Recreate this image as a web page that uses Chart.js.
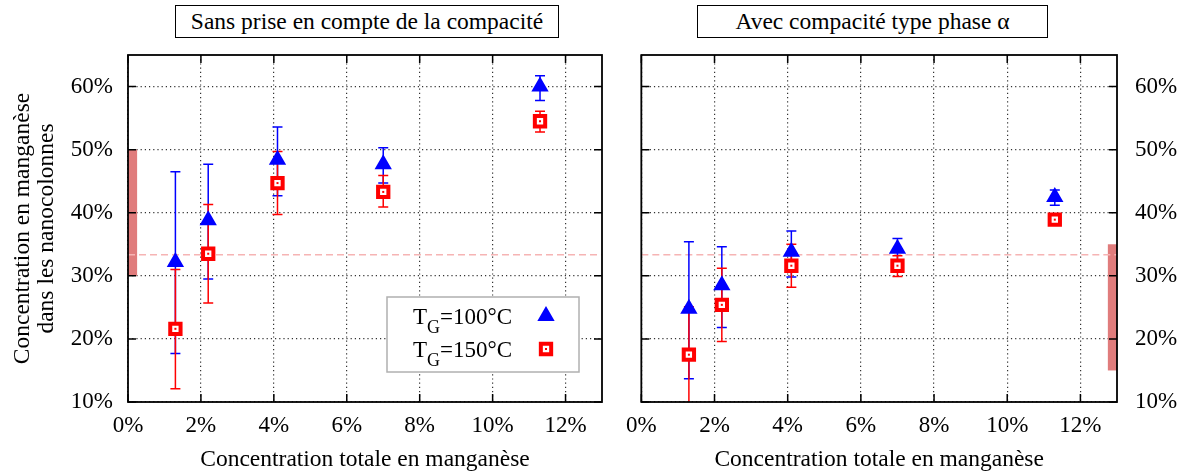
<!DOCTYPE html>
<html>
<head>
<meta charset="utf-8">
<script src="https://cdn.jsdelivr.net/npm/chart.js@4.4.1/dist/chart.umd.min.js"></script>
<style>
  body { margin: 0; background: #fff; width: 1186px; height: 476px; position: relative; overflow: hidden; font-family: "Liberation Serif", "Times New Roman", serif; }
  #c1 { position: absolute; left: 0; top: 0; }
  #c2 { position: absolute; left: 616px; top: 0; }
  .ttl { position: absolute; top: 5px; height: 31px; border: 1.5px solid #000; font-family: "Liberation Serif", "Times New Roman", serif; font-size: 23.5px; line-height: 31px; text-align: center; z-index: 2; background: #fff; }
</style>
</head>
<body>
<div class="ttl" style="left:175px;width:382px">Sans prise en compte de la compacité</div>
<div class="ttl" style="left:697px;width:349px">Avec compacité type phase α</div>
<canvas id="c1" width="616" height="476"></canvas>
<canvas id="c2" width="570" height="476"></canvas>
<script>
// Mn total concentration (%)
const mnTotal = [1.3, 2.2, 4.1, 7.0, 11.3];

// Left panel: sans prise en compte de la compacité
const sansT100 = [32.2, 38.8, 48.4, 47.7, 60.0];
const sansT100Low = [17.7, 29.5, 42.7, 44.7, 57.8];
const sansT100High = [46.5, 47.7, 53.6, 50.3, 61.7];
const sansT150 = [21.6, 33.5, 44.7, 43.3, 54.5];
const sansT150Low = [12.1, 25.7, 39.7, 40.9, 52.8];
const sansT150High = [31.0, 41.3, 49.7, 45.9, 56.1];

// Right panel: avec compacité type phase alpha
const avecT100 = [24.8, 28.5, 33.8, 34.3, 42.5];
const avecT100Low = [13.7, 21.8, 29.8, 32.3, 41.2];
const avecT100High = [35.4, 34.6, 37.1, 35.9, 43.6];
const avecT150 = [17.5, 25.4, 31.6, 31.6, 38.9];
const avecT150Low = [9.0, 19.6, 28.2, 29.9, 38.5];
const avecT150High = [25.1, 31.2, 35.0, 33.2, 39.3];

const xTicks = [0, 2, 4, 6, 8, 10, 12];
const yTicks = [10, 20, 30, 40, 50, 60];
const refLevel = 100 / 3;
const sansBandX = [0, 0.25], sansBandY = [30, 50];
const avecBandX = [12.75, 13], avecBandY = [15, 35];
const legendLabels = ['100°C', '150°C'];

const FONT = '"Liberation Serif", "Times New Roman", serif';
const BLUE = '#0000ff', RED = '#ff0000';

function points(vals, lo, hi) {
    return mnTotal.map((m, i) => ({ x: m, y: vals[i], lo: lo[i], hi: hi[i] }));
}

const decor = {
    id: 'decor',
    beforeDraw(chart) {
        const ctx = chart.ctx;
        ctx.save();
        ctx.fillStyle = '#fff';
        ctx.fillRect(0, 0, chart.width, chart.height);
        ctx.restore();
    },
    beforeDatasetsDraw(chart, args, opts) {
        const { ctx, chartArea: a, scales: { x, y } } = chart;
        ctx.save();
        ctx.beginPath();
        ctx.rect(a.left, a.top, a.width, a.height);
        ctx.clip();
        // shaded band
        const x0 = x.getPixelForValue(opts.bandX[0]), x1 = x.getPixelForValue(opts.bandX[1]);
        const y0 = y.getPixelForValue(opts.bandY[1]), y1 = y.getPixelForValue(opts.bandY[0]);
        ctx.fillStyle = '#e07c7c';
        ctx.fillRect(x0, y0, x1 - x0, y1 - y0);
        // dashed reference line
        const yr = y.getPixelForValue(refLevel);
        ctx.strokeStyle = '#f6b4b4';
        ctx.lineWidth = 1.5;
        ctx.setLineDash([7, 4]);
        ctx.beginPath();
        ctx.moveTo(a.left, yr);
        ctx.lineTo(a.right, yr);
        ctx.stroke();
        ctx.setLineDash([]);
        // error bars
        chart.data.datasets.forEach(ds => {
            ctx.strokeStyle = ds.borderColor;
            ctx.lineWidth = 1.5;
            ds.data.forEach(p => {
                const px = x.getPixelForValue(p.x);
                const lo = y.getPixelForValue(p.lo), hi = y.getPixelForValue(p.hi);
                ctx.beginPath();
                ctx.moveTo(px, lo); ctx.lineTo(px, hi);
                ctx.moveTo(px - 5, lo); ctx.lineTo(px + 5, lo);
                ctx.moveTo(px - 5, hi); ctx.lineTo(px + 5, hi);
                ctx.stroke();
            });
        });
        ctx.restore();
    },
    afterDatasetsDraw(chart, args, opts) {
        const { ctx, chartArea: a, scales: { x, y } } = chart;
        ctx.save();
        // centre dots of the square markers
        const red = chart.data.datasets[1];
        ctx.fillStyle = RED;
        red.data.forEach(p => {
            ctx.fillRect(x.getPixelForValue(p.x) - 1, y.getPixelForValue(p.y) - 1, 2, 2);
        });
        // frame
        ctx.strokeStyle = '#000';
        ctx.lineWidth = 1.8;
        ctx.strokeRect(a.left, a.top, a.width, a.height);
        // inward tick marks on all sides
        ctx.lineWidth = 1.5;
        ctx.beginPath();
        xTicks.forEach(v => {
            const px = x.getPixelForValue(v);
            ctx.moveTo(px, a.bottom); ctx.lineTo(px, a.bottom - 8);
            ctx.moveTo(px, a.top); ctx.lineTo(px, a.top + 8);
        });
        yTicks.forEach(v => {
            const py = y.getPixelForValue(v);
            ctx.moveTo(a.left, py); ctx.lineTo(a.left + 8, py);
            ctx.moveTo(a.right, py); ctx.lineTo(a.right - 8, py);
        });
        ctx.stroke();
        // legend box
        if (opts.legend) {
            const bx = a.right - 215, by = a.bottom - 105, bw = 192, bh = 75;
            ctx.fillStyle = '#fff';
            ctx.fillRect(bx, by, bw, bh);
            ctx.strokeStyle = '#b0b0b0';
            ctx.lineWidth = 1.5;
            ctx.strokeRect(bx, by, bw, bh);
            const endX = a.right - 90;
            const rows = [a.bottom - 78, a.bottom - 45];
            chart.data.datasets.forEach((ds, i) => {
                const base = rows[i];
                const rest = '=' + legendLabels[i];
                ctx.fillStyle = '#000';
                ctx.textBaseline = 'alphabetic';
                ctx.font = '23px ' + FONT;
                const wT = ctx.measureText('T').width, wR = ctx.measureText(rest).width;
                ctx.font = '18px ' + FONT;
                const wG = ctx.measureText('G').width;
                let tx = endX - wT - wG - wR;
                ctx.font = '23px ' + FONT;
                ctx.fillText('T', tx, base);
                ctx.font = '18px ' + FONT;
                ctx.fillText('G', tx + wT, base + 9);
                ctx.font = '23px ' + FONT;
                ctx.fillText(rest, tx + wT + wG, base);
                ctx.fillStyle = ds.backgroundColor;
                ctx.strokeStyle = ds.borderColor;
                ctx.lineWidth = ds.borderWidth;
                Chart.helpers.drawPoint(ctx, { pointStyle: ds.pointStyle, radius: ds.pointRadius, borderWidth: ds.borderWidth, rotation: 0 }, a.right - 56, base - 8);
                if (i === 1) {
                    ctx.fillStyle = RED;
                    ctx.fillRect(a.right - 57, base - 9, 2, 2);
                }
            });
        }
        ctx.restore();
    }
};

function makeChart(id, t100, t150, opts) {
    const ctx = document.getElementById(id).getContext('2d');
    const yAxisWidth = opts.yPos === 'left' ? 128 : 69;
    return new Chart(ctx, {
        type: 'scatter',
        data: {
            datasets: [
                {
                    label: 'TG=100°C',
                    data: t100,
                    pointStyle: 'triangle',
                    pointRadius: 7,
                    borderWidth: 3,
                    borderColor: BLUE,
                    backgroundColor: BLUE,
                },
                {
                    label: 'TG=150°C',
                    data: t150,
                    pointStyle: 'rect',
                    pointRadius: 7.3,
                    borderWidth: 4,
                    borderColor: RED,
                    backgroundColor: '#fff',
                },
            ],
        },
        options: {
            responsive: false,
            animation: false,
            events: [],
            layout: { padding: opts.padding },
            plugins: {
                legend: { display: false },
                tooltip: { enabled: false },
                decor: { bandX: opts.bandX, bandY: opts.bandY, legend: opts.legend },
            },
            scales: {
                x: {
                    type: 'linear',
                    min: 0,
                    max: 13,
                    afterBuildTicks: s => { s.ticks = xTicks.map(v => ({ value: v })); },
                    afterFit: s => { s.height = 74; },
                    ticks: {
                        color: '#000',
                        padding: 10,
                        maxRotation: 0,
                        font: { family: FONT, size: 23 },
                        callback: v => v + '%',
                    },
                    grid: {
                        color: '#333',
                        lineWidth: 1.2,
                        drawTicks: false,
                    },
                    border: { display: false, dash: [1.2, 3] },
                    title: {
                        display: true,
                        text: 'Concentration totale en manganèse',
                        color: '#000',
                        padding: { top: 0, bottom: 2 },
                        font: { family: FONT, size: 23.5 },
                    },
                },
                y: {
                    type: 'linear',
                    position: opts.yPos,
                    min: 10,
                    max: 65,
                    afterBuildTicks: s => { s.ticks = yTicks.map(v => ({ value: v })); },
                    afterFit: s => { s.width = yAxisWidth; },
                    ticks: {
                        color: '#000',
                        padding: opts.yPos === 'left' ? 15 : 18,
                        crossAlign: 'near',
                        font: { family: FONT, size: 23 },
                        callback: v => v + '%',
                    },
                    grid: {
                        color: '#333',
                        lineWidth: 1.2,
                        drawTicks: false,
                    },
                    border: { display: false, dash: [1.2, 3] },
                    title: {
                        display: opts.yPos === 'left',
                        text: ['Concentration en manganèse', 'dans les nanocolonnes'],
                        color: '#000',
                        padding: { top: 11 },
                        font: { family: FONT, size: 23.5, lineHeight: 1.03 },
                    },
                },
            },
        },
        plugins: [decor],
    });
}

makeChart('c1',
    points(sansT100, sansT100Low, sansT100High),
    points(sansT150, sansT150Low, sansT150High),
    { yPos: 'left', padding: { left: 0, right: 14, top: 55, bottom: 0 }, bandX: sansBandX, bandY: sansBandY, legend: true });

makeChart('c2',
    points(avecT100, avecT100Low, avecT100High),
    points(avecT150, avecT150Low, avecT150High),
    { yPos: 'right', padding: { left: 25, right: 0, top: 55, bottom: 0 }, bandX: avecBandX, bandY: avecBandY, legend: false });
</script>
</body>
</html>
